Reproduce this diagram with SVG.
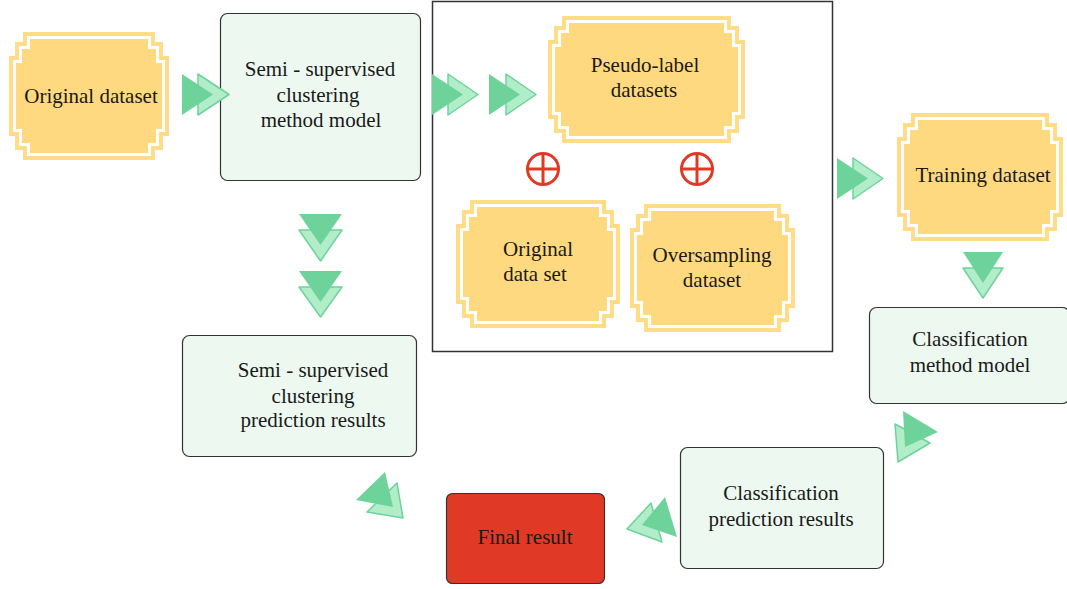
<svg xmlns="http://www.w3.org/2000/svg" width="1067" height="589" viewBox="0 0 1067 589">
  <style>
    .frame { fill: none; stroke: #FFDC85; stroke-width: 4; }
    .plate { fill: #FFD97F; }
    .box { fill: #EDF9F0; stroke: #333; stroke-width: 1.2; }
    .final { fill: #E03A26; stroke: #333; stroke-width: 1.2; }
    .ad { fill: #6DD39A; }
    .al { fill: #B2EDC9; stroke: #6DD39A; stroke-width: 1.5; stroke-linejoin: round; }
    .plus { fill: none; stroke: #E03A26; stroke-width: 3; }
    .lbl { font-family: 'Liberation Serif', 'DejaVu Serif', serif; font-size: 21px; fill: #1a1a1a; text-anchor: middle; }
  </style>

  <!-- container of the derived datasets -->
  <rect id="container" x="432.5" y="1.5" width="400" height="350" fill="none" stroke="#333" stroke-width="1.5"/>

  <g id="original-dataset">
    <path class="frame" d="M25,34 H153 V44 H161 V58 H167 V134 H161 V148 H153 V158 H25 V148 H17 V134 H11 V58 H17 V44 H25 Z"/>
    <path class="plate" d="M30,39 H148 V49 H156 V63 H162 V129 H156 V143 H148 V153 H30 V143 H22 V129 H16 V63 H22 V49 H30 Z"/>
    <text class="lbl" x="91" y="103">Original dataset</text>
  </g>

  <g id="ssc-model">
    <rect class="box" x="220.5" y="13.5" width="200" height="167" rx="7"/>
    <text class="lbl" x="320" y="76">Semi - supervised</text>
    <text class="lbl" x="318" y="102">clustering</text>
    <text class="lbl" x="321" y="127">method model</text>
  </g>

  <g id="pseudo-label">
    <path class="frame" d="M564,18 H729 V28 H737 V42 H743 V117 H737 V131 H729 V141 H564 V131 H556 V117 H550 V42 H556 V28 H564 Z"/>
    <path class="plate" d="M569,23 H724 V33 H732 V47 H738 V112 H732 V126 H724 V136 H569 V126 H561 V112 H555 V47 H561 V33 H569 Z"/>
    <text class="lbl" x="645" y="72">Pseudo-label</text>
    <text class="lbl" x="644" y="97">datasets</text>
  </g>

  <g id="original-data-set">
    <path class="frame" d="M472,202 H604 V212 H612 V226 H618 V302 H612 V316 H604 V326 H472 V316 H464 V302 H458 V226 H464 V212 H472 Z"/>
    <path class="plate" d="M477,207 H599 V217 H607 V231 H613 V297 H607 V311 H599 V321 H477 V311 H469 V297 H463 V231 H469 V217 H477 Z"/>
    <text class="lbl" x="538" y="256">Original</text>
    <text class="lbl" x="535" y="281">data set</text>
  </g>

  <g id="oversampling">
    <path class="frame" d="M646,206 H779 V216 H787 V230 H793 V306 H787 V320 H779 V330 H646 V320 H638 V306 H632 V230 H638 V216 H646 Z"/>
    <path class="plate" d="M651,211 H774 V221 H782 V235 H788 V301 H782 V315 H774 V325 H651 V315 H643 V301 H637 V235 H643 V221 H651 Z"/>
    <text class="lbl" x="712" y="262">Oversampling</text>
    <text class="lbl" x="712" y="287">dataset</text>
  </g>

  <g id="plus-signs">
    <circle class="plus" cx="543" cy="169" r="15.5"/>
    <path class="plus" d="M529,169 H557 M543,155 V183"/>
    <circle class="plus" cx="697" cy="169" r="15.5"/>
    <path class="plus" d="M683,169 H711 M697,155 V183"/>
  </g>

  <g id="training-dataset">
    <path class="frame" d="M913,115 H1047 V125 H1055 V139 H1061 V215 H1055 V229 H1047 V239 H913 V229 H905 V215 H899 V139 H905 V125 H913 Z"/>
    <path class="plate" d="M918,120 H1042 V130 H1050 V144 H1056 V210 H1050 V224 H1042 V234 H918 V224 H910 V210 H904 V144 H910 V130 H918 Z"/>
    <text class="lbl" x="983" y="182">Training dataset</text>
  </g>

  <g id="ssc-results">
    <rect class="box" x="182.5" y="335.5" width="234" height="121" rx="7"/>
    <text class="lbl" x="313" y="377">Semi - supervised</text>
    <text class="lbl" x="313" y="403">clustering</text>
    <text class="lbl" x="313" y="427">prediction results</text>
  </g>

  <g id="cls-model">
    <rect class="box" x="869.5" y="307.5" width="200" height="96" rx="7"/>
    <text class="lbl" x="970" y="346">Classification</text>
    <text class="lbl" x="970" y="372">method model</text>
  </g>

  <g id="cls-results">
    <rect class="box" x="680.5" y="447.5" width="203" height="121" rx="7"/>
    <text class="lbl" x="781" y="500">Classification</text>
    <text class="lbl" x="781" y="526">prediction results</text>
  </g>

  <g id="final-result">
    <rect class="final" x="446.5" y="493.5" width="158" height="90" rx="6"/>
    <text class="lbl" x="525" y="544">Final result</text>
  </g>

  <g id="connectors">
    <polygon class="al" points="198,74 229,94.5 198,115"/>
    <polygon class="ad" points="182,74 213,94.5 182,115"/>

    <polygon class="al" points="448,74 478,94.5 448,115"/>
    <polygon class="ad" points="432,74 463,94.5 432,115"/>

    <polygon class="al" points="506,74 536,94.5 506,115"/>
    <polygon class="ad" points="489,74 520,94.5 489,115"/>

    <polygon class="al" points="853,158 883,178.5 853,199"/>
    <polygon class="ad" points="837,158 868,178.5 837,199"/>

    <polygon class="al" points="299,230 342,230 320.5,261"/>
    <polygon class="ad" points="299,214 342,214 320.5,245"/>

    <polygon class="al" points="299,287 342,287 320.5,317"/>
    <polygon class="ad" points="299,271 342,271 320.5,302"/>

    <polygon class="al" points="963,268 1003,268 983,298"/>
    <polygon class="ad" points="963,252 1003,252 983,283"/>

    <polygon class="al" points="397,483 367,512 403,518"/>
    <polygon class="ad" points="385,472 356,500 393,507"/>

    <polygon class="al" points="651,503 627,529 662,542"/>
    <polygon class="ad" points="665,497 642,525 677,537"/>

    <polygon class="al" points="895,424 930,443 898,462"/>
    <polygon class="ad" points="903,411 938,432 905,447"/>
  </g>
</svg>
